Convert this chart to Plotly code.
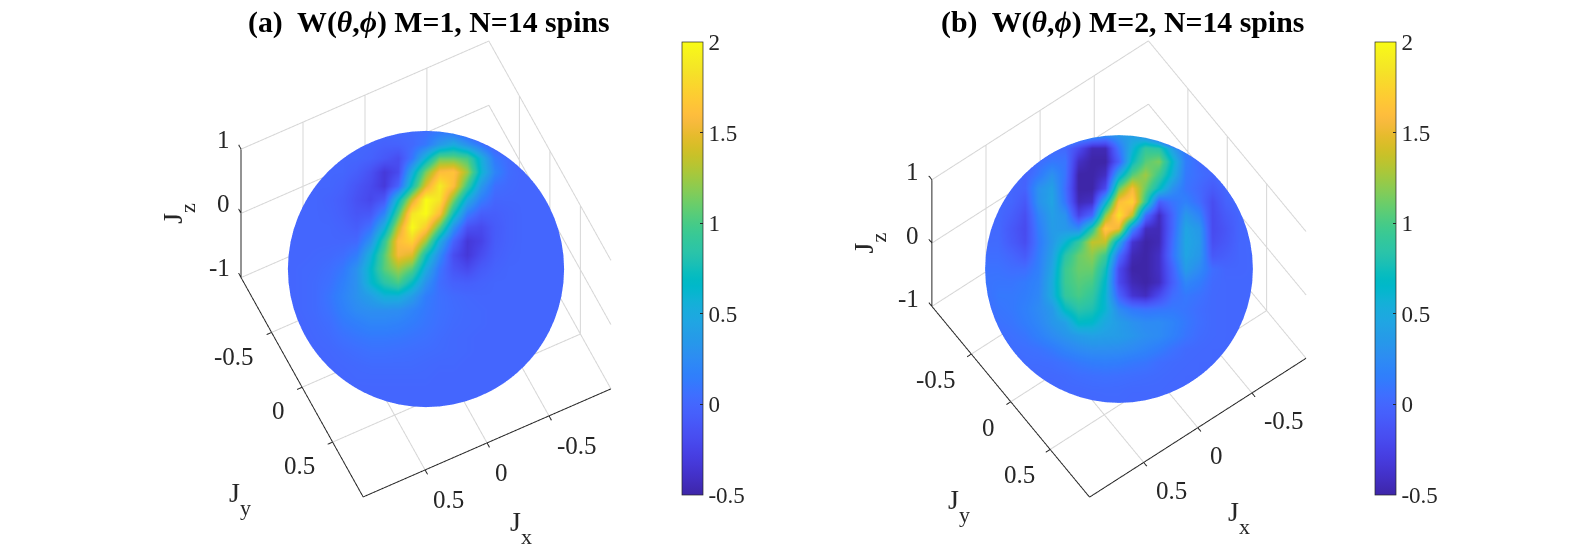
import numpy as np
import plotly.graph_objects as go

# Wigner function on a regular grid over the visible disc
# rows run from the top of the disc to the bottom, columns from left to right
W_A = [
 [0,0,0,0,0,0,0,0,.02,.03,.05,.12,.15,.1,.05,.02,0,0,0,0,0],
 [0,0,0,0,0,0,0,-.03,-.02,.02,.12,.35,.5,.3,.1,.03,0,0,0,0,0],
 [0,0,0,0,0,0,-.03,-.1,-.18,.1,.6,1.1,1.1,1.0,.55,.12,.03,0,0,0,0],
 [0,0,0,0,0,-.05,-.15,-.32,-.2,.5,1.15,1.6,1.65,1.25,.6,.2,.04,0,0,0,0],
 [0,0,0,0,-.03,-.12,-.2,-.32,-.02,.75,1.45,1.9,1.6,.95,.35,.06,.02,0,0,0,0],
 [0,0,0,-.02,-.06,-.15,-.22,-.1,.65,1.4,2.0,1.85,1.15,.5,.15,0,0,0,0,0,0],
 [0,0,0,-.01,-.05,-.12,-.1,.2,1.0,1.85,2.0,1.6,.75,.15,-.05,-.05,-.02,0,0,0,0],
 [0,0,0,0,-.02,-.06,.08,.55,1.35,2.0,1.7,1.05,.3,-.15,-.2,-.08,-.02,0,0,0,0],
 [0,0,0,0,0,.02,.3,.9,1.6,1.75,1.25,.5,-.02,-.33,-.25,-.07,-.02,0,0,0,0],
 [0,0,.01,.02,.05,.15,.55,1.05,1.55,1.45,.75,.25,-.18,-.33,-.18,-.05,-.01,0,0,0,0],
 [0,.01,.02,.05,.12,.3,.65,1.05,1.25,1.05,.5,.1,-.12,-.2,-.08,-.02,0,0,0,0,0],
 [0,.01,.03,.07,.17,.3,.62,.85,1.0,.7,.3,.05,-.03,-.05,-.02,0,0,0,0,0,0],
 [0,.01,.03,.1,.2,.3,.4,.55,.55,.38,.15,.07,.03,.01,0,0,0,0,0,0,0],
 [0,.01,.03,.08,.17,.25,.28,.28,.27,.2,.12,.07,.04,.02,.01,0,0,0,0,0,0],
 [0,0,.02,.05,.12,.16,.2,.2,.18,.14,.1,.06,.03,.02,.01,0,0,0,0,0,0],
 [0,0,.01,.03,.07,.1,.12,.12,.11,.09,.07,.04,.02,.01,0,0,0,0,0,0,0],
 [0,0,0,.01,.03,.05,.07,.07,.06,.05,.04,.03,.02,.01,0,0,0,0,0,0,0],
 [0,0,0,0,.01,.02,.03,.03,.03,.03,.02,.01,.01,0,0,0,0,0,0,0,0],
 [0,0,0,0,0,.01,.01,.01,.01,.01,.01,0,0,0,0,0,0,0,0,0,0],
 [0,0,0,0,0,0,0,0,0,0,0,0,0,0,0,0,0,0,0,0,0],
 [0,0,0,0,0,0,0,0,0,0,0,0,0,0,0,0,0,0,0,0,0],
]
W_B = [
 [.02,.02,.03,.03,.04,.06,.08,.1,.2,.25,.35,.4,.35,.25,.15,.08,.05,.03,.02,.02,.02],
 [.02,.02,.03,.03,.04,.05,.02,-.2,-.45,-.45,.1,.55,.9,.85,.4,.15,.05,.03,.02,.02,.02],
 [.02,.02,.02,.02,.05,.12,.1,-.4,-.5,-.5,-.05,.7,1.05,1.15,.65,.15,.03,.02,.02,.02,.02],
 [.02,.02,.02,-.02,.12,.3,.1,-.5,-.5,-.4,.5,1.05,1.25,.95,.55,.12,.05,0,.01,.01,.01],
 [.01,.01,0,-.02,.3,.42,.05,-.5,-.5,-.2,1.1,1.55,1.1,.7,.3,.1,.02,-.08,.01,.01,.01],
 [.01,.01,0,-.1,.3,.45,.1,-.45,-.4,.55,1.6,1.75,.9,-.05,.1,.18,.05,-.18,-.02,.01,.01],
 [.01,.02,-.05,-.17,.2,.4,.3,-.25,0,1.2,1.85,1.35,.05,-.42,0,.35,.2,-.2,-.08,0,.01],
 [.02,.02,-.1,-.2,.15,.38,.35,.25,.85,1.7,1.5,.25,-.42,-.45,0,.45,.35,-.2,-.12,0,.01],
 [.03,.03,-.08,-.18,.12,.35,.6,.9,1.35,1.35,.5,-.35,-.5,-.45,.05,.47,.38,-.17,-.1,0,.01],
 [.05,.05,0,-.08,.15,.4,.85,1.1,1.2,.95,.05,-.45,-.5,-.4,.08,.45,.35,-.1,-.05,0,.01],
 [.08,.08,.05,.05,.17,.45,.95,1.1,1.1,.75,-.2,-.5,-.5,-.4,-.02,.38,.25,.05,0,0,.01],
 [.09,.1,.1,.13,.2,.5,.95,1.05,1.0,.65,-.2,-.45,-.5,-.42,-.05,.22,.15,.03,.01,.01,.01],
 [.08,.12,.12,.15,.22,.5,.9,1.0,.9,.6,-.02,-.35,-.42,-.2,.05,.12,.08,.02,.01,.01,.01],
 [.07,.1,.12,.17,.25,.35,.7,.85,.8,.6,.25,.12,.08,.1,.12,.1,.05,.02,.01,.01,.01],
 [.05,.08,.1,.15,.22,.33,.42,.68,.65,.48,.38,.3,.25,.25,.2,.12,.06,.02,.01,.01,.01],
 [.04,.05,.07,.1,.17,.25,.32,.38,.42,.4,.38,.33,.28,.25,.18,.1,.04,.02,.01,.01,.01],
 [.03,.04,.05,.06,.08,.13,.2,.25,.28,.28,.27,.24,.2,.15,.08,.03,.02,.01,.01,.01,.01],
 [.02,.02,.03,.04,.04,.05,.08,.12,.15,.16,.15,.12,.1,.05,.03,.02,.01,.01,.01,.01,.01],
 [.01,.01,.02,.02,.02,.02,.03,.05,.06,.07,.06,.05,.04,.03,.02,.01,.01,.01,.01,.01,.01],
 [.01,.01,.01,.01,.01,.01,.02,.02,.03,.03,.03,.02,.02,.02,.01,.01,.01,.01,.01,.01,.01],
 [.01,.01,.01,.01,.01,.01,.01,.01,.01,.02,.02,.01,.01,.01,.01,.01,.01,.01,.01,.01,.01],
]
AXIS_TICKS = [-0.5, 0, 0.5]
Z_TICKS = [-1, 0, 1]
CBAR_TICKS = [-0.5, 0, 0.5, 1, 1.5, 2]
TITLE_A = "<b>(a)  W(<i>θ</i>,<i>ϕ</i>) M=1, N=14 spins</b>"
TITLE_B = "<b>(b)  W(<i>θ</i>,<i>ϕ</i>) M=2, N=14 spins</b>"

PARULA = [(0.2422,0.1504,0.6603),(0.2504,0.1650,0.7076),(0.2578,0.1818,0.7511),(0.2647,0.1978,0.7952),(0.2706,0.2147,0.8364),(0.2751,0.2342,0.8710),(0.2783,0.2559,0.8991),(0.2803,0.2782,0.9221),(0.2813,0.3006,0.9414),(0.2810,0.3228,0.9579),(0.2795,0.3447,0.9717),(0.2760,0.3667,0.9829),(0.2699,0.3892,0.9906),(0.2602,0.4123,0.9952),(0.2440,0.4358,0.9988),(0.2206,0.4603,0.9973),(0.1963,0.4847,0.9892),(0.1834,0.5074,0.9798),(0.1786,0.5289,0.9682),(0.1764,0.5499,0.9520),(0.1687,0.5703,0.9359),(0.1540,0.5902,0.9218),(0.1460,0.6091,0.9079),(0.1380,0.6276,0.8973),(0.1248,0.6459,0.8883),(0.1113,0.6635,0.8763),(0.0952,0.6798,0.8598),(0.0689,0.6948,0.8394),(0.0297,0.7082,0.8163),(0.0036,0.7203,0.7917),(0.0067,0.7312,0.7660),(0.0433,0.7411,0.7394),(0.0964,0.7500,0.7120),(0.1408,0.7584,0.6842),(0.1717,0.7670,0.6554),(0.1938,0.7758,0.6251),(0.2161,0.7843,0.5923),(0.2470,0.7918,0.5567),(0.2906,0.7973,0.5188),(0.3406,0.8008,0.4789),(0.3909,0.8029,0.4354),(0.4456,0.8024,0.3909),(0.5044,0.7993,0.3480),(0.5616,0.7942,0.3045),(0.6174,0.7876,0.2612),(0.6720,0.7793,0.2227),(0.7242,0.7698,0.1910),(0.7738,0.7598,0.1646),(0.8203,0.7498,0.1535),(0.8634,0.7406,0.1596),(0.9035,0.7330,0.1774),(0.9393,0.7288,0.2100),(0.9728,0.7298,0.2394),(0.9956,0.7434,0.2371),(0.9970,0.7659,0.2199),(0.9952,0.7893,0.2028),(0.9892,0.8136,0.1885),(0.9786,0.8386,0.1766),(0.9676,0.8639,0.1643),(0.9610,0.8890,0.1537),(0.9597,0.9135,0.1423),(0.9628,0.9373,0.1265),(0.9691,0.9606,0.1064),(0.9769,0.9839,0.0805)]
COLORSCALE = [[i/(len(PARULA)-1), "rgb(%d,%d,%d)" % tuple(round(c*255) for c in p)] for i, p in enumerate(PARULA)]

W, H = 1575, 557
SERIF = "Liberation Serif"
DARK = "#262626"
GRID = "#d6d6d6"
PX_PER_UNIT = 133.5  # orthographic scene scale at aspect ratio 1, range +-1
RANGE = 1.1  # scene range, a little wider than the box so that outward ticks are kept


def sphere_cap(eye, rows):
    """Front of the unit sphere as seen from `eye`, gridded over the view plane."""
    E = np.array(eye) / np.linalg.norm(eye)
    R = np.array([-E[1], E[0], 0.0]); R /= np.linalg.norm(R)
    U = np.cross(E, R)
    n = len(rows)
    a = np.linspace(-1, 1, n)
    u, v = np.meshgrid(a, a[::-1])
    rr = np.hypot(u, v)
    k = np.where(rr > 1, 1 / np.maximum(rr, 1e-9), 1.0)
    u, v = u * k, v * k
    w = np.sqrt(np.clip(1 - u**2 - v**2, 0, 1))
    return [u * R[i] + v * U[i] + w * E[i] for i in range(3)]


def lines(name, segs, color, width):
    lx, ly, lz = [], [], []
    for a, b in segs:
        lx.extend([a[0], b[0], None]); ly.extend([a[1], b[1], None]); lz.extend([a[2], b[2], None])
    return go.Scatter3d(x=lx, y=ly, z=lz, mode="lines", scene=name, hoverinfo="skip",
                        showlegend=False, line=dict(color=color, width=width))


def panel(fig, name, rows, eye, scale, cx, cy, half, cbx, shifts):
    # grid on the floor and on the two back walls
    grid = []
    for v in AXIS_TICKS:
        grid += [((v, -1, -1), (v, 1, -1)), ((-1, v, -1), (1, v, -1)),
                 ((v, -1, -1), (v, -1, 1)), ((-1, v, -1), (-1, v, 1))]
    for v in Z_TICKS:
        grid += [((-1, -1, v), (1, -1, v)), ((-1, -1, v), (-1, 1, v))]
    fig.add_trace(lines(name, grid, GRID, 2))
    x, y, z = sphere_cap(eye, rows)
    off = dict(show=False, highlight=False, project=dict(x=False, y=False, z=False))
    fig.add_trace(go.Surface(
        x=x, y=y, z=z, surfacecolor=np.array(rows, float), colorscale=COLORSCALE,
        cmin=-0.5, cmax=2, scene=name, hoverinfo="skip",
        contours=dict(x=off, y=off, z=off),
        lighting=dict(ambient=1, diffuse=0, specular=0, roughness=1, fresnel=0),
        colorbar=dict(x=cbx/W, xanchor="left", thickness=21, thicknessmode="pixels",
                      y=1-42/H, yanchor="top", len=453, lenmode="pixels", xpad=0, ypad=0,
                      tickvals=CBAR_TICKS, ticktext=["-0.5","0","0.5","1","1.5","2"],
                      ticks="inside", ticklen=3, tickwidth=0.7, tickcolor=DARK,
                      outlinecolor=DARK, outlinewidth=0.7,
                      tickfont=dict(family=SERIF, size=23, color=DARK)),
    ))
    # axis lines and tick marks
    t = 0.04
    ax = [((-1, 1, -1), (1, 1, -1)), ((1, -1, -1), (1, 1, -1)), ((1, -1, -1), (1, -1, 1))]
    for v in AXIS_TICKS:
        ax += [((v, 1, -1), (v, 1 + t, -1)), ((1, v, -1), (1 + t, v, -1))]
    for v in Z_TICKS:
        ax += [((1, -1, v), (1, -1 - t, v))]
    fig.add_trace(lines(name, ax, DARK, 2))

    font = dict(family=SERIF, size=25, color=DARK)
    lab = dict(family=SERIF, size=28, color=DARK)
    ann = []
    base = dict(yanchor="middle", showarrow=False)
    sx, sy = shifts["x"]
    for v in AXIS_TICKS:
        ann.append(dict(base, x=v, y=1, z=-1, text=str(v), xanchor="left", xshift=sx, yshift=-sy, font=font))
    sx, sy = shifts["y"]
    for v in AXIS_TICKS:
        ann.append(dict(base, x=1, y=v, z=-1, text=str(v), xanchor="right", xshift=sx, yshift=-sy, font=font))
    sx, sy = shifts["z"]
    for v in Z_TICKS:
        ann.append(dict(base, x=1, y=-1, z=v, text=str(v), xanchor="right", xshift=sx, yshift=-sy, font=font))
    sub = lambda s: 'J<sub><sub><sub><span style="font-size:22px">%s</span></sub></sub></sub>' % s
    sx, sy = shifts["jx"]
    ann.append(dict(base, x=0, y=1, z=-1, text=sub("x"), xanchor="left", xshift=sx, yshift=-sy, font=lab))
    sx, sy = shifts["jy"]
    ann.append(dict(base, x=1, y=0, z=-1, text=sub("y"), xanchor="left", xshift=sx, yshift=-sy, font=lab))
    sx, sy = shifts["jz"]
    ann.append(dict(base, x=1, y=-1, z=0, text=sub("z"), xanchor="center", xshift=sx, yshift=-sy, textangle=-90, font=lab))

    axis = dict(range=[-RANGE, RANGE], autorange=False, title=dict(text=""), showticklabels=False, ticks="",
                showgrid=False, zeroline=False, showline=False, showbackground=False, showspikes=False)
    k = RANGE * scale / PX_PER_UNIT
    e = np.array(eye) / np.linalg.norm(eye) * 10
    return {name: dict(
        domain=dict(x=[(cx-half)/W, (cx+half)/W], y=[1-(cy+half)/H, 1-(cy-half)/H]),
        xaxis=axis, yaxis=axis, zaxis=axis,
        aspectmode="manual", aspectratio=dict(x=k, y=k, z=k),
        camera=dict(eye=dict(x=e[0], y=e[1], z=e[2]), center=dict(x=0, y=0, z=0), up=dict(x=0, y=0, z=1),
                    projection=dict(type="orthographic")),
        annotations=ann)}

fig = go.Figure()
sa = panel(fig, "scene", W_A, (0.2055, 0.4171, 0.8852), 137.6, 425.7, 268.7, 268, 682,
           dict(x=(6.5, 30), y=(-15, 24), z=(-9, -9.5), jx=(21, 85), jy=(-75, 112), jz=(-63, 0)))
sb = panel(fig, "scene2", W_B, (0.2784, 0.3824, 0.8811), 133.4, 1119, 269, 268, 1375,
           dict(x=(10, 28), y=(-13.6, 25.5), z=(-11, -8), jx=(27.7, 90), jy=(-65, 104), jz=(-62.6, 0)))
title = dict(xref="paper", yref="paper", showarrow=False, xanchor="center", yanchor="middle",
             font=dict(family=SERIF, size=29.8, color="black"))
fig.update_layout(width=W, height=H, margin=dict(l=0, r=0, t=0, b=0, autoexpand=False),
                  paper_bgcolor="white", showlegend=False, **sa, **sb,
                  annotations=[dict(title, x=429/W, y=1-22/H, text=TITLE_A),
                               dict(title, x=1122/W, y=1-22/H, text=TITLE_B)])
fig.write_html("out.html", config=dict(displayModeBar=False),
               post_script="document.body.style.margin='0';")
